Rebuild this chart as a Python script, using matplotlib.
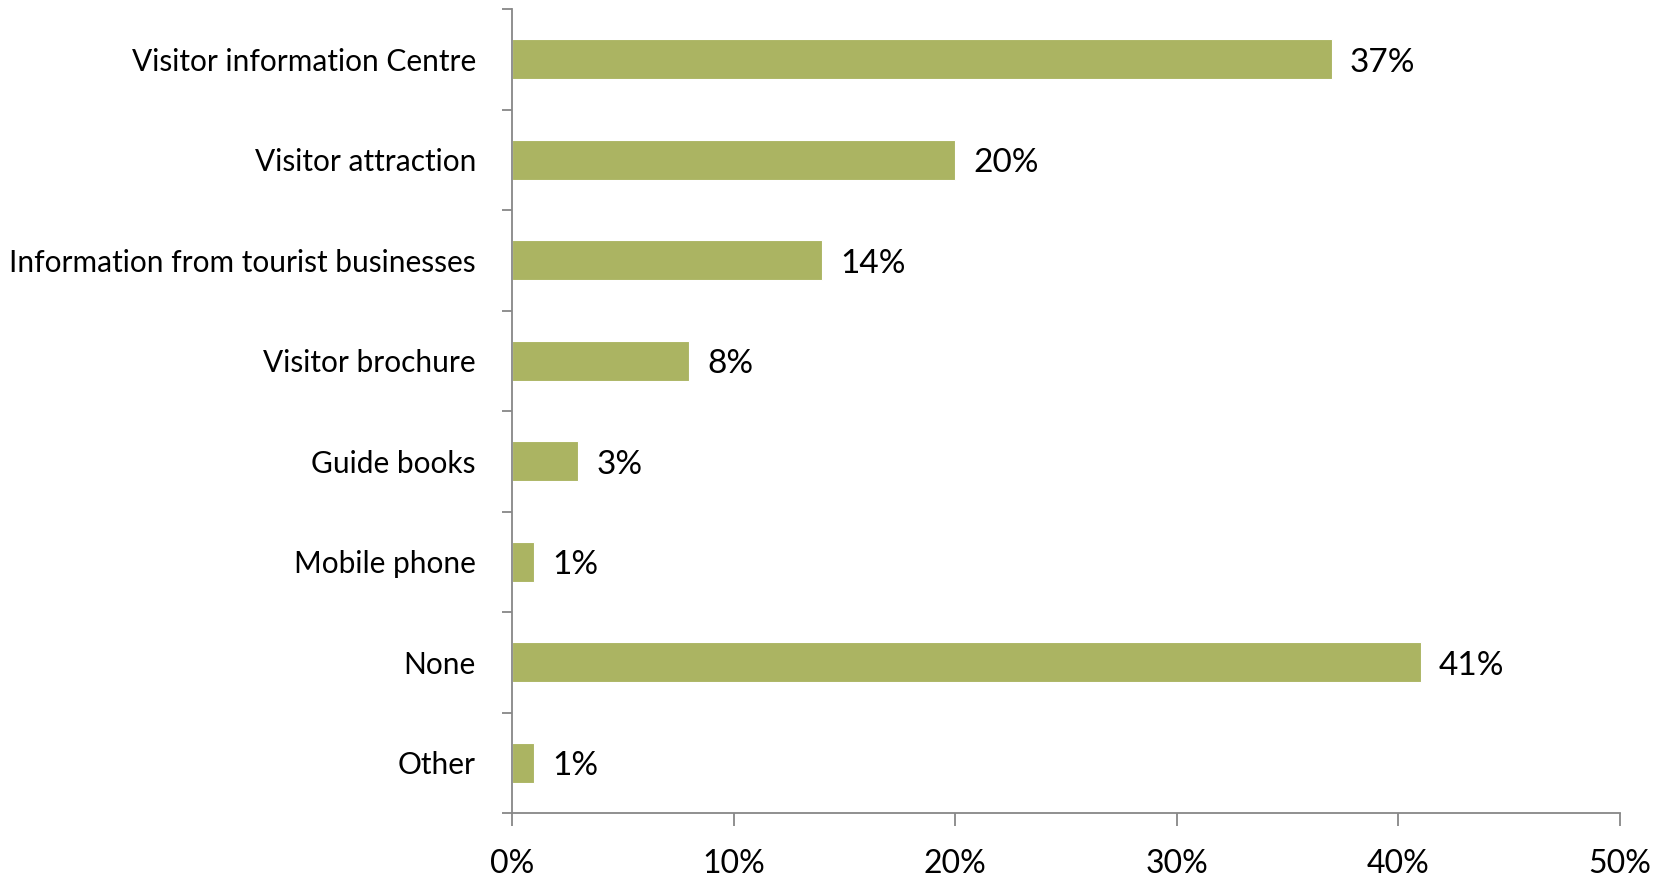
import numpy as np
import matplotlib.pyplot as plt
from matplotlib.ticker import FuncFormatter

# Sources of information used during the visit (% of respondents)
categories = [
    "Visitor information Centre",
    "Visitor attraction",
    "Information from tourist businesses",
    "Visitor brochure",
    "Guide books",
    "Mobile phone",
    "None",
    "Other",
]
shares = [37, 20, 14, 8, 3, 1, 41, 1]
x_ticks = [0, 10, 20, 30, 40, 50]

plt.rcParams['font.family'] = ['Lato', 'DejaVu Sans']
bar_color = '#abb462'
axis_color = '#878787'

fig = plt.figure(figsize=(16.7, 8.77), dpi=100)
ax = fig.add_axes([512 / 1670, 1 - 813 / 877, 1108 / 1670, (813 - 9) / 877])

y = np.arange(len(categories))
ax.barh(y, shares, height=0.4, color=bar_color, edgecolor='white', linewidth=0.8)

for yi, v in zip(y, shares):
    ax.annotate(f"{v}%", (v, yi), xytext=(13, -2.5), textcoords='offset points',
                ha='left', va='center', fontsize=24, color='black')

ax.set_ylim(len(categories) - 0.5, -0.5)
ax.set_xlim(0, 50)
ax.set_xticks(x_ticks)
ax.xaxis.set_major_formatter(FuncFormatter(lambda v, p: f"{v:.0f}%"))

# category boundaries carry the y ticks
ax.set_yticks(np.arange(len(categories) + 1) - 0.5)
ax.set_yticklabels([])
ax.set_yticks(y, minor=True)
ax.set_yticklabels(categories, minor=True)
ax.tick_params(axis='y', which='minor', length=0, pad=26, labelsize=21.5)
ax.tick_params(axis='y', which='major', length=7, width=1.3, color=axis_color)
ax.tick_params(axis='x', length=9, width=1.3, color=axis_color, pad=17, labelsize=23)

for side in ['top', 'right']:
    ax.spines[side].set_visible(False)
for side in ['left', 'bottom']:
    ax.spines[side].set_color(axis_color)
    ax.spines[side].set_linewidth(1.3)

fig.savefig('out.png', dpi=100)
